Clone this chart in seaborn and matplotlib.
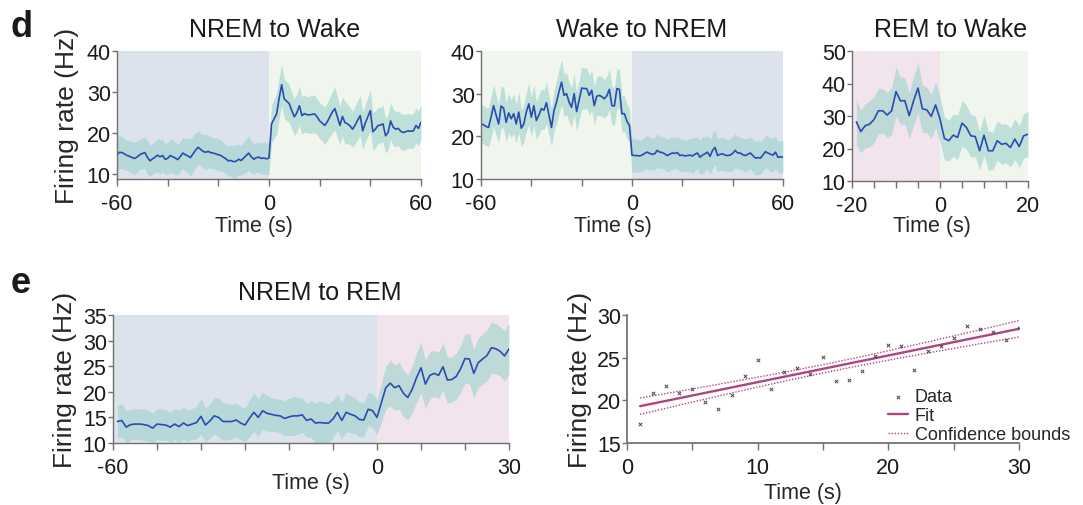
import numpy as np
import matplotlib
matplotlib.use("Agg")
import matplotlib.pyplot as plt
import seaborn as sns

# ---------------- data ----------------
# d: NREM to Wake (1-s bins, -60..60 s)
t1 = np.arange(-60, 61)
m1 = [14.8, 15.4, 15.3, 15.0, 14.6, 14.4, 14.1, 13.9, 14.3, 14.8,
      15.1, 15.3, 14.2, 13.3, 13.8, 14.2, 14.7, 14.3, 14.6, 13.7,
      13.9, 14.6, 14.3, 14.0, 13.6, 14.4, 15.2, 14.8, 14.5, 14.1,
      15.0, 15.9, 16.6, 16.1, 15.6, 15.4, 15.6, 15.3, 15.2, 15.0,
      14.8, 14.6, 14.2, 13.8, 13.3, 13.4, 13.1, 13.2, 13.7, 13.4,
      14.0, 14.6, 15.2, 14.3, 13.7, 14.1, 14.2, 13.9, 14.0, 13.8,
      14.0,
      22.3, 23.5, 24.7, 28.5, 31.8, 28.4, 27.8, 27.2, 25.5, 24.0,
      25.0, 26.7, 24.3, 24.8, 24.5, 24.5, 24.6, 24.7, 24.0, 23.0,
      22.5, 21.9, 22.8, 24.0, 25.2, 26.0, 24.0, 21.9, 24.1, 22.6,
      22.3, 21.8, 21.0, 22.0, 23.2, 24.3, 20.6, 22.5, 24.0, 25.5,
      20.4, 21.0, 21.9, 22.0, 22.3, 19.4, 20.2, 23.0, 21.5, 21.0,
      21.2, 20.5, 20.2, 20.4, 20.6, 20.5, 20.6, 21.9, 21.2, 22.7]
s1 = [4.2, 4.0, 3.9, 3.8, 3.7, 3.8, 3.9, 4.0, 3.8, 3.6,
      3.7, 3.9, 4.1, 3.8, 3.6, 3.7, 4.0, 4.2, 3.9, 3.7,
      3.8, 4.0, 4.1, 3.9, 3.7, 3.6, 3.8, 4.0, 4.3, 4.5,
      4.4, 4.2, 4.0, 3.9, 4.1, 4.3, 4.0, 3.8, 3.7, 3.8,
      3.9, 3.7, 3.6, 3.5, 3.6, 3.8, 4.0, 3.9, 3.7, 3.6,
      3.8, 4.1, 4.2, 3.9, 3.7, 3.6, 3.7, 3.8, 3.9, 3.8,
      3.9,
      4.6, 4.8, 5.0, 5.0, 4.9, 4.8, 4.7, 4.6, 4.5, 4.5,
      4.6, 4.8, 4.6, 4.5, 4.4, 4.5, 4.6, 4.5, 4.4, 4.3,
      4.4, 4.5, 4.6, 4.8, 5.0, 5.2, 5.0, 4.6, 4.8, 5.2,
      4.8, 4.5, 4.4, 4.6, 4.7, 4.9, 4.5, 4.6, 4.8, 5.0,
      4.6, 4.5, 4.4, 4.3, 4.4, 4.2, 4.3, 4.5, 4.4, 4.3,
      4.2, 4.3, 4.4, 4.3, 4.2, 4.1, 4.2, 4.3, 4.2, 4.3]

# d: Wake to NREM
t2 = np.arange(-60, 61)
m2 = [23.0, 22.7, 22.3, 22.1, 24.5, 27.2, 25.0, 22.9, 27.1, 26.6,
      23.3, 25.5, 24.1, 25.3, 22.9, 25.7, 21.9, 22.9, 25.7, 27.6,
      24.5, 27.2, 23.7, 25.0, 26.5, 26.1, 27.9, 25.0, 22.1, 26.0,
      28.0, 30.5, 32.7, 29.6, 30.0, 28.0, 26.8, 30.0, 25.8, 28.5,
      31.3, 31.2, 31.2, 29.6, 30.8, 27.2, 29.4, 29.6, 29.3, 28.8,
      29.5, 31.0, 27.2, 27.1, 31.2, 31.0, 25.3, 25.3, 23.5, 22.5,
      15.6,
      15.5, 15.5, 15.4, 15.6, 16.0, 16.3, 16.0, 15.8, 15.9, 16.7,
      16.3, 16.2, 15.9, 15.5, 15.8, 16.1, 16.0, 16.2, 15.5, 15.6,
      15.4, 15.5, 15.6, 15.4, 15.8, 16.1, 15.1, 15.6, 15.9, 16.3,
      15.3, 16.7, 17.4, 15.5, 15.8, 15.9, 15.6, 15.5, 15.6, 16.0,
      16.7, 16.1, 16.1, 15.7, 15.5, 15.8, 16.1, 15.5, 14.9, 15.0,
      14.9, 15.6, 16.4, 16.1, 15.8, 15.6, 16.3, 15.1, 15.2, 15.1]
s2 = [4.6, 4.5, 4.4, 4.6, 4.8, 5.0, 4.7, 4.4, 4.8, 4.9,
      4.5, 4.6, 4.4, 4.7, 4.5, 4.8, 4.3, 4.4, 4.6, 4.9,
      4.6, 4.8, 4.5, 4.6, 4.7, 4.6, 4.9, 4.7, 4.4, 4.8,
      5.0, 5.2, 5.3, 5.0, 4.9, 4.7, 4.6, 4.8, 4.5, 4.7,
      4.9, 4.8, 4.8, 4.6, 4.7, 4.5, 4.6, 4.7, 4.6, 4.5,
      4.6, 4.8, 4.5, 4.4, 4.7, 4.6, 4.3, 4.2, 4.0, 3.9,
      3.9,
      3.9, 3.8, 3.8, 3.7, 3.8, 3.9, 3.8, 3.7, 3.8, 3.9,
      3.8, 3.7, 3.7, 3.8, 3.9, 3.8, 3.7, 3.8, 3.9, 3.8,
      3.7, 3.8, 3.9, 4.2, 3.9, 3.8, 4.0, 4.3, 4.0, 3.9,
      4.1, 4.2, 4.0, 3.9, 3.8, 3.9, 3.8, 3.7, 3.9, 4.0,
      3.9, 3.8, 3.7, 3.8, 3.9, 3.8, 3.7, 3.8, 3.9, 4.0,
      3.8, 3.7, 3.8, 3.9, 4.0, 3.9, 3.8, 3.7, 3.8, 3.9]

# d: REM to Wake
t3 = np.arange(-19, 21)
m3 = [28.2, 25.2, 27.0, 27.5, 28.9, 31.6, 31.6, 30.3, 31.6, 37.5,
      34.7, 34.7, 30.1, 34.7, 38.6, 32.2, 31.9, 29.9, 33.4, 29.1,
      23.1, 22.4, 24.1, 23.4, 27.8, 26.5, 23.9, 23.7, 19.3, 24.1,
      19.3, 19.3, 22.4, 21.3, 21.6, 20.3, 22.9, 20.6, 23.9, 24.4]
s3 = [7.0, 6.5, 6.8, 7.0, 7.2, 7.0, 6.8, 7.0, 7.2, 7.5,
      7.3, 7.2, 7.0, 7.5, 7.8, 7.2, 7.0, 6.8, 7.0, 7.0,
      6.5, 6.3, 6.5, 6.8, 7.0, 6.8, 6.5, 6.3, 6.0, 6.2,
      6.0, 5.8, 6.0, 6.2, 6.0, 6.0, 6.3, 6.5, 6.8, 7.0]

# e: NREM to REM
t4 = np.arange(-59, 31)
m4 = [14.2, 14.4, 13.1, 13.6, 13.7, 13.7, 13.6, 13.4, 12.9, 13.7,
      13.6, 13.5, 13.1, 13.7, 13.2, 13.9, 13.4, 13.7, 14.0, 15.2,
      13.5, 14.3, 15.3, 15.0, 14.2, 14.2, 14.2, 14.5, 13.9, 13.5,
      14.8, 16.0, 15.0, 16.3, 15.8, 15.6, 15.4, 15.3, 14.8, 15.1,
      15.3, 15.3, 15.5, 14.4, 14.7, 13.9, 14.0, 13.9, 13.9, 14.7,
      16.0, 14.4, 16.0, 15.6, 15.3, 14.6, 14.5, 16.6, 16.3, 15.0,
      17.9, 20.8, 21.7, 20.8, 21.2, 19.7, 18.9, 20.5, 22.8, 24.7,
      21.5, 23.2, 23.6, 23.2, 24.9, 22.3, 22.4, 23.0, 24.5, 26.5,
      26.4, 23.6, 25.7, 26.4, 27.1, 28.6, 28.4, 27.9, 27.0, 28.4]
s4 = [3.2, 3.3, 3.1, 3.0, 2.9, 3.0, 3.1, 3.0, 2.9, 3.0,
      3.1, 3.0, 2.9, 3.0, 3.1, 3.2, 3.1, 3.0, 3.2, 3.5,
      3.4, 3.3, 3.6, 3.8, 3.7, 3.5, 3.4, 3.3, 3.2, 3.3,
      3.6, 3.8, 3.7, 3.6, 3.5, 3.3, 3.2, 3.3, 3.4, 3.6,
      3.8, 3.6, 3.4, 3.3, 3.6, 3.9, 4.2, 4.0, 3.8, 3.7,
      3.5, 3.6, 3.8, 3.6, 3.5, 3.4, 3.3, 3.2, 3.3, 3.4,
      3.8, 4.2, 4.5, 4.4, 4.6, 4.5, 4.4, 4.6, 4.8, 4.9,
      4.7, 4.6, 4.5, 4.5, 4.6, 4.5, 4.4, 4.5, 4.6, 4.8,
      4.9, 4.7, 4.8, 4.9, 5.0, 5.0, 4.9, 4.8, 4.9, 5.0]

# e: regression on REM period
x5 = np.arange(1, 31)
y5 = [17.25, 20.83, 21.64, 20.87, 21.37, 19.86, 19.00, 20.67, 22.89, 24.75,
      21.33, 23.28, 23.74, 23.08, 25.03, 22.23, 22.42, 23.47, 25.22, 26.46,
      26.31, 23.59, 25.80, 26.39, 27.36, 28.72, 28.33, 28.02, 27.05, 28.52]
t_crit = 2.048  # t(0.975, df=28)

titles = ["NREM to Wake", "Wake to NREM", "REM to Wake", "NREM to REM"]
legend_labels = ["Data", "Fit", "Confidence bounds"]

# ---------------- style ----------------
sns.set_theme(style="ticks")
plt.rcParams["font.family"] = ["Liberation Sans", "DejaVu Sans"]
plt.rcParams["axes.edgecolor"] = "#707070"
plt.rcParams["xtick.color"] = "#707070"
plt.rcParams["ytick.color"] = "#707070"
plt.rcParams["xtick.labelcolor"] = "#1a1a1a"
plt.rcParams["ytick.labelcolor"] = "#1a1a1a"

C_NREM = "#dde3ec"
C_WAKE = "#f0f6ee"
C_REM = "#f1e4ec"
C_BAND = "#9dd2cb"
C_LINE = "#2a4cb0"
C_FIT = "#b04480"

TICK_FS = 15.5
TITLE_FS = 18
XL_FS = 15.5
YL_FS = 19

W, H = 1083, 506
fig = plt.figure(figsize=(W / 100, H / 100), dpi=100)


def add_axes(l, r, top, bottom):
    return fig.add_axes([l / W, 1 - bottom / H, (r - l) / W, (bottom - top) / H])


def trace_panel(ax, t, m, s, pre_col, post_col, xlim, ylim, xticks, xlabels, yticks):
    m = np.asarray(m)
    s = np.asarray(s)
    ax.axvspan(xlim[0], 0, color=pre_col, lw=0, zorder=0)
    ax.axvspan(0, xlim[1], color=post_col, lw=0, zorder=0)
    ax.fill_between(t, m - s, m + s, color=C_BAND, alpha=0.6, lw=0, zorder=1)
    sns.lineplot(x=t, y=m, ax=ax, color=C_LINE, linewidth=1.2, zorder=2)
    ax.set_xlim(*xlim)
    ax.set_ylim(*ylim)
    ax.set_xticks(xticks)
    ax.set_xticklabels(xlabels)
    ax.set_yticks(yticks)
    sns.despine(ax=ax)
    ax.tick_params(axis="x", direction="out", length=5, width=1, pad=5, labelsize=TICK_FS)
    ax.tick_params(axis="y", direction="out", length=3.5, width=1, pad=1, labelsize=TICK_FS)
    for sp in ax.spines.values():
        sp.set_linewidth(1.0)
    ax.set_xlabel("Time (s)", fontsize=XL_FS)
    ax.set_ylabel("")


def lab(vals, show):
    return [str(v) if v in show else "" for v in vals]


# Panel d1
ax1 = add_axes(117, 421, 52, 180)
xt = [-60, -40, -20, 0, 20, 40, 60]
trace_panel(ax1, t1, m1, s1, C_NREM, C_WAKE, (-60, 60), (8.9, 40),
            xt, lab(xt, [-60, 0, 60]), [10, 20, 30, 40])
ax1.set_ylabel("Firing rate (Hz)", fontsize=YL_FS)
ax1.yaxis.set_label_coords(-0.125, 0.5)
ax1.xaxis.set_label_coords(0.45, -0.28)

# Panel d2
ax2 = add_axes(481, 783, 52, 180)
trace_panel(ax2, t2, m2, s2, C_WAKE, C_NREM, (-60, 60), (10, 40),
            xt, lab(xt, [-60, 0, 60]), [10, 20, 30, 40])
ax2.xaxis.set_label_coords(0.437, -0.28)

# Panel d3
ax3 = add_axes(852, 1028, 52, 182)
xt3 = [-20, -15, -10, -5, 0, 5, 10, 15, 20]
trace_panel(ax3, t3, m3, s3, C_REM, C_WAKE, (-20, 20), (10, 50),
            xt3, lab(xt3, [-20, 0, 20]), [10, 20, 30, 40, 50])
ax3.xaxis.set_label_coords(0.455, -0.26)

# Panel e1
ax4 = add_axes(113, 509, 316, 444)
xt4 = [-60, -50, -40, -30, -20, -10, 0, 10, 20, 30]
trace_panel(ax4, t4, m4, s4, C_NREM, C_REM, (-60, 30), (10, 35),
            xt4, lab(xt4, [-60, 0, 30]), [10, 15, 20, 25, 30, 35])
ax4.set_ylabel("Firing rate (Hz)", fontsize=YL_FS)
ax4.yaxis.set_label_coords(-0.091, 0.5)
ax4.xaxis.set_label_coords(0.5, -0.227)

# Panel e2: regression
ax5 = add_axes(627, 1019, 316, 444)
xa = np.asarray(x5, dtype=float)
ya = np.asarray(y5)
slope, icpt = np.polyfit(xa, ya, 1)
fit = slope * xa + icpt
resid = ya - fit
n = len(xa)
sres = np.sqrt(np.sum(resid ** 2) / (n - 2))
se = sres * np.sqrt(1 / n + (xa - xa.mean()) ** 2 / np.sum((xa - xa.mean()) ** 2))
sns.scatterplot(x=xa, y=ya, ax=ax5, marker="x", s=6, color="#444444",
                linewidth=0.7, label=legend_labels[0], zorder=3)
sns.lineplot(x=xa, y=fit, ax=ax5, color=C_FIT, linewidth=1.7, label=legend_labels[1])
sns.lineplot(x=xa, y=fit + t_crit * se, ax=ax5, color=C_FIT, linewidth=1.0,
             linestyle=(0, (1, 1.2)), label=legend_labels[2])
sns.lineplot(x=xa, y=fit - t_crit * se, ax=ax5, color=C_FIT, linewidth=1.0,
             linestyle=(0, (1, 1.2)))
ax5.set_xlim(0, 30)
ax5.set_ylim(15, 30)
xt5 = [0, 5, 10, 15, 20, 25, 30]
ax5.set_xticks(xt5)
ax5.set_xticklabels(lab(xt5, [0, 10, 20, 30]))
ax5.set_yticks([15, 20, 25, 30])
sns.despine(ax=ax5)
ax5.tick_params(axis="x", direction="out", length=5, width=1, pad=5, labelsize=TICK_FS)
ax5.tick_params(axis="y", direction="out", length=3.5, width=1, pad=1, labelsize=TICK_FS)
ax5.set_xlabel("Time (s)", fontsize=XL_FS)
ax5.set_ylabel("Firing rate (Hz)", fontsize=YL_FS)
ax5.yaxis.set_label_coords(-0.089, 0.5)
ax5.xaxis.set_label_coords(0.449, -0.305)
ax5.legend(loc="lower left", bbox_to_anchor=(0.665, 0.0), frameon=False,
           fontsize=13, handlelength=1.1, handletextpad=0.4, labelspacing=0.1,
           borderpad=0, borderaxespad=0)

# Titles and panel letters
fig.text(275 / W, 1 - 37 / H, titles[0], ha="center", va="baseline", fontsize=TITLE_FS, color="#1a1a1a")
fig.text(642 / W, 1 - 37 / H, titles[1], ha="center", va="baseline", fontsize=TITLE_FS, color="#1a1a1a")
fig.text(951 / W, 1 - 37 / H, titles[2], ha="center", va="baseline", fontsize=TITLE_FS, color="#1a1a1a")
fig.text(320 / W, 1 - 300 / H, titles[3], ha="center", va="baseline", fontsize=TITLE_FS, color="#1a1a1a")
fig.text(11 / W, 1 - 37 / H, "d", ha="left", va="baseline", fontsize=26, fontweight="bold", color="#1a1a1a")
fig.text(11 / W, 1 - 293 / H, "e", ha="left", va="baseline", fontsize=26, fontweight="bold", color="#1a1a1a")

fig.savefig("out.png", dpi=100)
